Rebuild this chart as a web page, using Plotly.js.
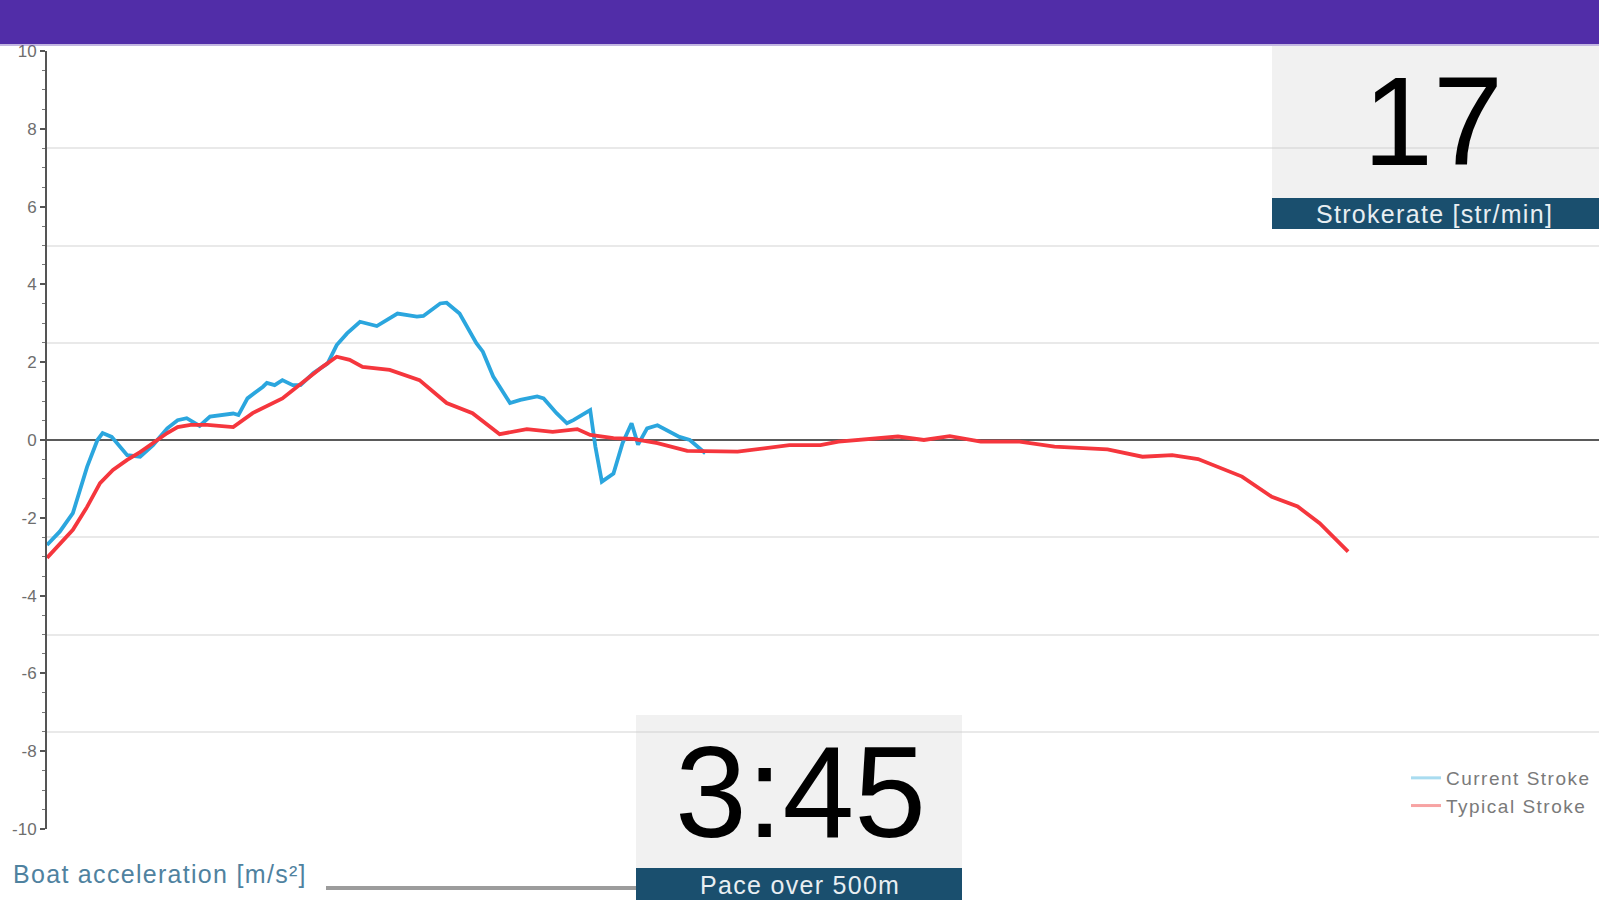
<!DOCTYPE html>
<html>
<head>
<meta charset="utf-8">
<script src="https://cdn.plot.ly/plotly-3.0.1.min.js"></script>
<style>
html,body{margin:0;padding:0;background:#fff;overflow:hidden;}
#chart{width:1599px;height:900px;}
</style>
</head>
<body>
<div id="chart"></div>
<script>
// ---- data (x: position within stroke, y: boat acceleration m/s²) ----
const currentX = [0,1.0,2.0,3.1,3.9,4.3,5.0,6.2,7.2,8.2,9.3,10.1,10.8,11.8,12.6,14.4,14.8,15.5,16.7,17.0,17.6,18.2,19.0,19.6,20.6,21.7,22.4,23.2,24.2,25.5,27.1,28.6,29.1,30.4,30.9,31.9,33.2,33.7,34.5,35.8,36.6,37.9,38.4,39.4,40.2,40.7,42.0,42.4,42.9,43.8,44.5,45.2,45.7,46.4,47.2,48.2,48.9,49.7,50.9];
const currentY = [-2.7,-2.35,-1.88,-0.69,0,0.18,0.08,-0.39,-0.43,-0.13,0.3,0.51,0.56,0.36,0.6,0.68,0.64,1.07,1.37,1.47,1.41,1.54,1.41,1.41,1.72,1.97,2.44,2.74,3.04,2.93,3.25,3.17,3.19,3.51,3.53,3.25,2.49,2.27,1.63,0.95,1.03,1.12,1.07,0.69,0.43,0.51,0.77,-0.17,-1.07,-0.86,-0.08,0.43,-0.12,0.3,0.38,0.21,0.08,0,-0.34];
const typicalX = [0,2.0,3.1,4.1,5.1,6.2,7.2,8.2,9.3,10.1,11.1,12.4,14.4,15.9,17.0,18.2,19.0,20.3,21.3,22.4,23.4,24.4,26.5,28.8,30.9,32.9,35.0,37.1,39.1,41.0,42.0,43.8,45.3,47.2,49.5,53.4,57.4,59.8,61.2,65.8,67.8,69.8,72.2,75.2,77.9,82.0,84.7,87.0,89.0,92.4,94.7,96.7,98.4,100.6];
const typicalY = [-3.03,-2.31,-1.72,-1.11,-0.77,-0.51,-0.31,-0.08,0.18,0.33,0.39,0.39,0.33,0.69,0.86,1.07,1.28,1.63,1.88,2.14,2.06,1.88,1.8,1.54,0.95,0.69,0.15,0.28,0.21,0.28,0.13,0.05,0.03,-0.08,-0.28,-0.3,-0.13,-0.13,-0.04,0.09,0,0.1,-0.04,-0.04,-0.17,-0.24,-0.43,-0.39,-0.49,-0.94,-1.46,-1.71,-2.14,-2.87];
const seriesNames = ["Current Stroke", "Typical Stroke"];
const strokeRate = "17";
const strokeRateLabel = "Strokerate [str/min]";
const pace = "3:45";
const paceLabel = "Pace over 500m";
const yAxisLabel = "Boat acceleration [m/s²]";
const yTicks = [-10,-8,-6,-4,-2,0,2,4,6,8,10];
const yTickText = ["-10","-8","-6","-4","-2","0","2","4","6","8","10"];

// ---- layout helpers (pixel -> paper) ----
const W = 1599, H = 900, ML = 47, MR = 0, MT = 51, MB = 71;
const PW = W - ML - MR, PH = H - MT - MB;
const xp = px => (px - ML) / PW;
const yp = py => (H - MB - py) / PH;
const spaced = (t, s) => '<span style="letter-spacing:' + s + 'px">' + t + '</span>';

const BLUE = "#2ba6de", RED = "#f5363d", BAR = "#1a4f6e";
const FONT = "Liberation Sans, Arial, sans-serif";

const traces = [
  {x: currentX, y: currentY, type: "scatter", mode: "lines", name: seriesNames[0],
   line: {color: BLUE, width: 3.8}, showlegend: false, hoverinfo: "skip"},
  {x: typicalX, y: typicalY, type: "scatter", mode: "lines", name: seriesNames[1],
   line: {color: RED, width: 3.8}, showlegend: false, hoverinfo: "skip"},
  // legend entries (faded, as in the app)
  {x: [null], y: [null], type: "scatter", mode: "lines", name: spaced(seriesNames[0], 1.5), yaxis: "y2",
   line: {color: "#a9dcf0", width: 3}},
  {x: [null], y: [null], type: "scatter", mode: "lines", name: spaced(seriesNames[1], 1.5), yaxis: "y2",
   line: {color: "#f7a3a3", width: 3}}
];

const layout = {
  width: W, height: H,
  margin: {l: ML, r: MR, t: MT, b: MB, pad: 0},
  paper_bgcolor: "#ffffff", plot_bgcolor: "#ffffff",
  showlegend: true,
  legend: {x: xp(1406), xanchor: "left", y: yp(759), yanchor: "top",
    font: {family: FONT, size: 19, color: "#7a7a7a"},
    bgcolor: "rgba(0,0,0,0)", itemwidth: 30, tracegroupgap: 0},
  xaxis: {range: [0, 120], visible: false, fixedrange: true},
  yaxis: {range: [-10, 10], tickvals: yTicks, ticktext: yTickText, showgrid: false,
    zeroline: true, zerolinecolor: "#5a5a5a", zerolinewidth: 2,
    showline: true, linecolor: "#555555", linewidth: 2,
    ticks: "outside", ticklen: 5, tickwidth: 2, tickcolor: "#555555",
    minor: {dtick: 0.5, ticks: "outside", ticklen: 3, tickcolor: "#777777", tickwidth: 1},
    tickfont: {family: FONT, size: 17, color: "#6e6e6e"},
    fixedrange: true},
  yaxis2: {range: [-10, 10], overlaying: "y", side: "left", dtick: 2.5, tick0: 0,
    showgrid: true, gridcolor: "#e9e9e9", gridwidth: 2, showticklabels: false,
    zeroline: false, showline: false, ticks: "", fixedrange: true},
  shapes: [
    // header bar
    {type: "rect", xref: "paper", yref: "paper", x0: xp(0), x1: xp(W), y0: yp(44), y1: yp(-5),
     fillcolor: "#512da8", line: {width: 0}, layer: "above"},
    {type: "rect", xref: "paper", yref: "paper", x0: xp(0), x1: xp(W), y0: yp(46), y1: yp(44),
     fillcolor: "rgba(81,45,168,0.35)", line: {width: 0}, layer: "above"},
    // strokerate box
    {type: "rect", xref: "paper", yref: "paper", x0: xp(1272), x1: xp(W + 5), y0: yp(198), y1: yp(46),
     fillcolor: "rgba(205,205,205,0.28)", line: {width: 0}, layer: "above"},
    {type: "rect", xref: "paper", yref: "paper", x0: xp(1272), x1: xp(W + 5), y0: yp(229), y1: yp(198),
     fillcolor: BAR, line: {width: 0}, layer: "above"},
    // pace box
    {type: "rect", xref: "paper", yref: "paper", x0: xp(636), x1: xp(962), y0: yp(868), y1: yp(715),
     fillcolor: "rgba(205,205,205,0.28)", line: {width: 0}, layer: "above"},
    {type: "rect", xref: "paper", yref: "paper", x0: xp(636), x1: xp(962), y0: yp(905), y1: yp(868),
     fillcolor: BAR, line: {width: 0}, layer: "above"},
    // grey slider line
    {type: "line", xref: "paper", yref: "paper", x0: xp(326), x1: xp(636), y0: yp(888), y1: yp(888),
     line: {color: "#9c9c9c", width: 4}, layer: "above"}
  ],
  annotations: [
    {xref: "paper", yref: "paper", x: xp(1433), y: yp(122), xanchor: "center", yanchor: "middle",
     text: strokeRate, showarrow: false,
     font: {family: FONT, size: 126, color: "#000000"}},
    {xref: "paper", yref: "paper", x: xp(1434), y: yp(214), xanchor: "center", yanchor: "middle",
     text: spaced(strokeRateLabel, 1.3), showarrow: false,
     font: {family: FONT, size: 25, color: "#e8eef2"}},
    {xref: "paper", yref: "paper", x: xp(800), y: yp(792), xanchor: "center", yanchor: "middle",
     text: pace, showarrow: false,
     font: {family: FONT, size: 129, color: "#000000"}},
    {xref: "paper", yref: "paper", x: xp(800), y: yp(885), xanchor: "center", yanchor: "middle",
     text: spaced(paceLabel, 1.3), showarrow: false,
     font: {family: FONT, size: 25, color: "#e8eef2"}},
    {xref: "paper", yref: "paper", x: xp(11), y: yp(874), xanchor: "left", yanchor: "middle",
     text: spaced(yAxisLabel, 1.3), showarrow: false,
     font: {family: FONT, size: 25, color: "#4f829f"}}
  ]
};

Plotly.newPlot("chart", traces, layout, {staticPlot: true, displayModeBar: false});
</script>
</body>
</html>
